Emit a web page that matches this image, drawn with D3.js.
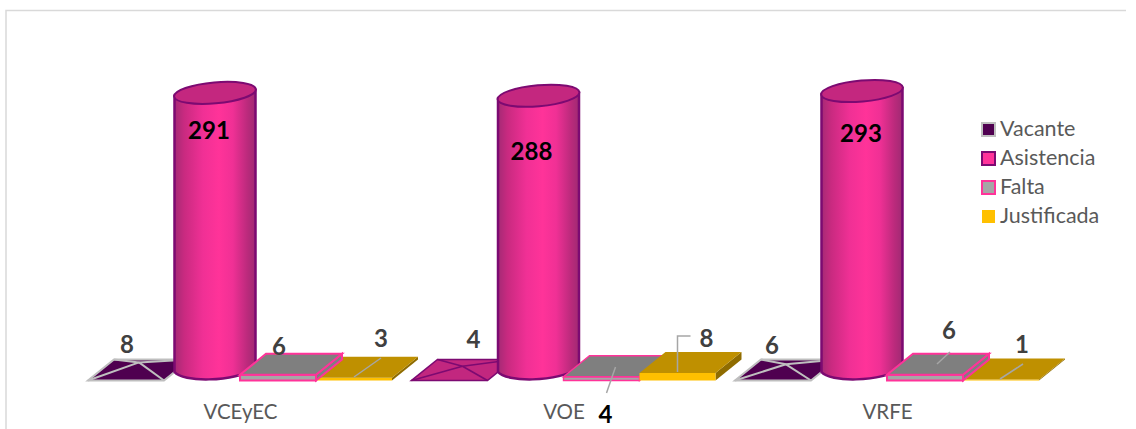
<!DOCTYPE html>
<html><head><meta charset="utf-8">
<script src="https://cdn.jsdelivr.net/npm/d3@7"></script>
<style>html,body{margin:0;padding:0;background:#fff}svg{display:block}text{font-family:Lato,"Open Sans",sans-serif}</style>
</head><body><svg id="c" width="1136" height="429"></svg>
<script>
const categories = ["VCEyEC","VOE","VRFE"];
const seriesNames = ["Vacante","Asistencia","Falta","Justificada"];
const vacante = [8,4,6];
const asistencia = [291,288,293];
const falta = [6,4,6];
const justificada = [3,8,1];
const seriesValues = [vacante,asistencia,falta,justificada];
const pink="#ff3399", purple="#4f0050", grey="#bfbfbf";

const W=1136,H=429;
const svg=d3.select("#c");
const x=d3.scalePoint().domain(categories).range([240,887]);
const off=d3.scalePoint().domain(seriesNames).range([-101,127]);
const y=d3.scaleLinear().domain([0,293]).range([370,91]);
const halfW=38, skew=13, halfD=10.5, cylR=40.5;

const defs=svg.append("defs");
const g=defs.append("linearGradient").attr("id","cyl");
[[0,"#a52a75"],[0.12,"#c92a80"],[0.35,"#f03095"],[0.55,"#ff3399"],[0.72,"#f03095"],[0.9,"#bb2a7c"],[1,"#a02a73"]]
 .forEach(s=>g.append("stop").attr("offset",s[0]).attr("stop-color",s[1]));

// frame
svg.append("path").attr("d",`M6,429V10.5H1126`).attr("fill","none").attr("stroke","#d9d9d9").attr("stroke-width",1.5);

const plot=svg.append("g");
const line=d3.line();
function poly(sel,pts,fill,stroke,sw){
  sel.append("path").attr("d",line(pts)+"Z").attr("fill",fill)
    .attr("stroke",stroke||"none").attr("stroke-width",sw||0).attr("stroke-linejoin","miter");
}
function corners(cx,base){
  return {fl:[cx-skew-halfW,base+halfD],fr:[cx-skew+halfW,base+halfD],
          br:[cx+skew+halfW,base-halfD],bl:[cx+skew-halfW,base-halfD]};
}
function pyramid(cat,i){
  const v=vacante[i],cx=x(cat)+off("Vacante"),b=y(0),c=corners(cx,b),apex=[cx,y(v)];
  const light=i!==1;
  const fill=light?purple:"#c2277f", st=light?grey:"#7c0a72", sw=light?2:1.6;
  const n=plot.append("g").attr("class","mark vacante");
  poly(n,[c.fl,c.fr,c.br,c.bl],fill,st,sw);
  [c.fl,c.fr,c.br,c.bl].forEach(p=>n.append("line").attr("x1",p[0]).attr("y1",p[1]).attr("x2",apex[0]).attr("y2",apex[1]).attr("stroke",st).attr("stroke-width",sw));
}
function cylinder(cat,i){
  const v=asistencia[i],cx=x(cat)+off("Asistencia"),b=y(0),t=y(v),r=cylR,ry=10.5;
  const n=plot.append("g").attr("class","mark asistencia");
  n.append("path").attr("d",`M${cx-r},${t+3}V${b+2}C${cx-r+8},${b+12} ${cx+r-24},${b+13} ${cx+r},${b-2}V${t-3}Z`)
    .attr("fill","url(#cyl)").attr("stroke","#7c0a72").attr("stroke-width",2.5);
  n.append("ellipse").attr("cx",cx).attr("cy",t).attr("rx",r+.5).attr("ry",ry)
    .attr("transform",`rotate(-5 ${cx} ${t})`).attr("fill","#c4277f").attr("stroke","#7c0a72").attr("stroke-width",2);
}
function slab(cat,i,name){
  const v=name==="Falta"?falta[i]:justificada[i],cx=x(cat)+off(name),b=y(0),h=b-y(v),c=corners(cx,b);
  const up=p=>[p[0],p[1]-h];
  const n=plot.append("g").attr("class","mark "+name);
  const isF=name==="Falta";
  const top=isF?"#7f7f7f":"#bf9000", front=isF?"#a6a6a6":"#ffc000", side=isF?"#7f7f7f":"#8f6c00";
  const st=isF?pink:"none", sw=isF?(i===1?1.4:2):0;
  poly(n,[c.fr,c.br,up(c.br),up(c.fr)],side,st,sw);
  poly(n,[c.fl,c.fr,up(c.fr),up(c.fl)],front,st,sw);
  poly(n,[up(c.fl),up(c.fr),up(c.br),up(c.bl)],top,st,sw);
}
categories.forEach((cat,i)=>{
  pyramid(cat,i);
  cylinder(cat,i);
  // the taller slab of the neighbouring pair hides the lower one
  const pair=falta[i]>justificada[i]?["Justificada","Falta"]:["Falta","Justificada"];
  pair.forEach(n=>slab(cat,i,n));
});

// leader lines: offsets from the slab's base centre
const leaders=[
 {s:"Justificada",c:0,p:[[-13,7],[14,-12]]},
 {s:"Falta",c:1,p:[[-8,23],[1,-3]]},
 {s:"Justificada",c:1,p:[[-13,2],[-13,-34],[0,-34]]},
 {s:"Falta",c:2,p:[[-1,-6],[12,-18]]},
 {s:"Justificada",c:2,p:[[-14,9],[9,-6]]}
];
leaders.forEach(l=>{
  const cx=x(categories[l.c])+off(l.s),b=y(0);
  plot.append("path").attr("d",line(l.p.map(p=>[cx+p[0],b+p[1]]))).attr("fill","none").attr("stroke","#a6a6a6").attr("stroke-width",1.5);
});

// data labels
const labelOffsets={Vacante:[[-12,-23],[11,-28],[-14,-22]],
  Asistencia:[[-6,40],[-7,58],[-1,45]],
  Falta:[[-12,-21],[-9,47],[11,-37]],
  Justificada:[[14,-29],[16,-29],[8,-23]]};
seriesNames.forEach((s,si)=>{
  seriesValues[si].forEach((v,i)=>{
    const o=labelOffsets[s][i];
    const px=x(categories[i])+off(s)+o[0];
    const py=(s==="Asistencia"?y(v):y(0))+o[1];
    const dark=s==="Asistencia"||(s==="Falta"&&i===1);
    svg.append("text").attr("x",px).attr("y",py).attr("text-anchor","middle").attr("dominant-baseline","middle")
      .attr("font-size",24).attr("font-weight",700).attr("fill",dark?"#000":"#404040").text(v);
  });
});

// category axis
const ax=svg.append("g").attr("transform","translate(0,414)")
  .call(d3.axisBottom(x).tickSize(0).tickPadding(0));
ax.select(".domain").remove();
ax.selectAll("text").attr("y",0).attr("dy",0).attr("dominant-baseline","middle").attr("font-size",20.5).attr("fill","#595959").style("font-family","Lato");

// legend
const ly=d3.scalePoint().domain(seriesNames).range([131,218]);
const swatch={Vacante:[purple,grey],Asistencia:[pink,"#7c0a72"],Falta:["#a6a6a6",pink],Justificada:["#ffc000","none"]};
const leg=svg.append("g");
seriesNames.forEach(s=>{
  leg.append("rect").attr("x",982).attr("y",ly(s)-8).attr("width",13).attr("height",13)
    .attr("fill",swatch[s][0]).attr("stroke",swatch[s][1]).attr("stroke-width",2);
  leg.append("text").attr("x",1000).attr("y",ly(s)).attr("dominant-baseline","middle")
    .attr("font-size",21.5).attr("fill","#595959").text(s);
});
</script></body></html>
